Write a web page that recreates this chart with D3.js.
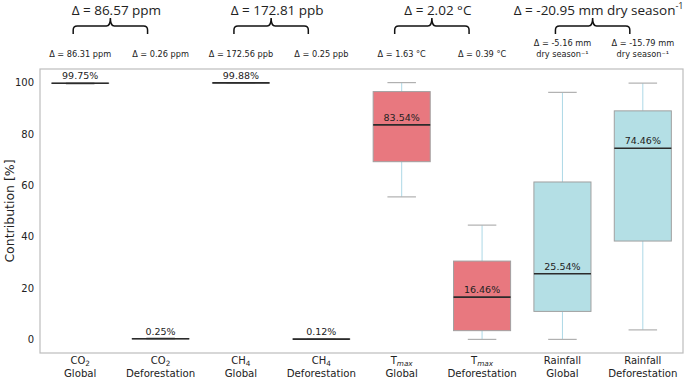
<!DOCTYPE html>
<html>
<head>
<meta charset="utf-8">
<script src="https://cdn.jsdelivr.net/npm/d3@7"></script>
<style>
  body { margin: 0; background: #fff; }
  text { font-family: "DejaVu Sans", sans-serif; fill: #222; }
  .big { font-family: "Open Sans", sans-serif; font-size: 13.5px; }
</style>
</head>
<body>
<div id="chart-area"></div>
<script>
// categories (label line 1 parts, line 2)
const gases = ["CO", "CO", "CH", "CH", "T", "T", "Rainfall", "Rainfall"];
const subs = ["2", "2", "4", "4", "max", "max", "", ""];
const scopes = ["Global", "Deforestation", "Global", "Deforestation", "Global", "Deforestation", "Global", "Deforestation"];

// box stats [%]
const lows = [99.45, 0, 99.7, 0, 55.5, 0, 0, 3.7];
const q1s = [99.68, 0.15, 99.83, 0.06, 69.2, 3.4, 10.9, 38.3];
const medians = [99.75, 0.25, 99.88, 0.12, 83.54, 16.46, 25.54, 74.46];
const q3s = [99.82, 0.35, 99.93, 0.18, 96.5, 30.5, 61.3, 89.0];
const highs = [100, 0.55, 100, 0.3, 100, 44.5, 96.2, 99.8];
const fills = [null, null, null, null, "#e8787f", "#e8787f", "#b4dfe5", "#b4dfe5"];

// annotations
const smallLabels = [
  ["Δ = 86.31 ppm"], ["Δ = 0.26 ppm"], ["Δ = 172.56 ppb"], ["Δ = 0.25 ppb"],
  ["Δ = 1.63 °C"], ["Δ = 0.39 °C"],
  ["Δ = -5.16 mm", "dry season⁻¹"], ["Δ = -15.79 mm", "dry season⁻¹"]
];
const bigLabels = ["Δ = 86.57 ppm", "Δ = 172.81 ppb", "Δ = 2.02 °C", "Δ = -20.95 mm dry season"];
const bigSup = ["", "", "", "-1"];

const yTicks = [0, 20, 40, 60, 80, 100];

let margin = { top: 69, right: 2, bottom: 27, left: 40 },
  width = 685 - margin.left - margin.right,
  height = 380 - margin.top - margin.bottom;

let root = d3.select("#chart-area").append("svg")
  .attr("width", 685).attr("height", 380);

let svg = root.append("g")
  .attr("transform", "translate(" + margin.left + "," + margin.top + ")");

let x = d3.scaleBand().domain(d3.range(gases.length)).range([0, width]);
let y = d3.scaleLinear().domain([-5.3, 105.3]).range([height, 0]);

let bw = x.bandwidth() * 0.71;
let cw = bw / 2;

// frame
svg.append("rect")
  .attr("width", width).attr("height", height)
  .attr("fill", "none").attr("stroke", "#bdbdbd").attr("stroke-width", 1.2);

// y axis
let yAxis = d3.axisLeft(y).tickValues(yTicks).tickSize(0).tickPadding(6);
let yAxisGroup = svg.append("g").call(yAxis);
yAxisGroup.select(".domain").remove();
yAxisGroup.selectAll("text").style("font-size", "10px").attr("fill", "#222");

root.append("text")
  .attr("transform", "translate(14," + (margin.top + y(50)) + ") rotate(-90)")
  .attr("text-anchor", "middle")
  .style("font-size", "12.5px")
  .text("Contribution [%]");

// x labels
let xl = svg.append("g").attr("transform", "translate(0," + height + ")");
gases.forEach(function(g, i) {
  let cx = x(i) + x.bandwidth() / 2;
  let t = xl.append("text").attr("x", cx).attr("y", 10.5)
    .attr("text-anchor", "middle").style("font-size", "10px");
  t.append("tspan").text(g);
  if (subs[i]) {
    t.append("tspan").attr("dy", 2)
      .style("font-size", "7.3px")
      .style("font-style", subs[i] === "max" ? "italic" : "normal")
      .text(subs[i]);
  }
  xl.append("text").attr("x", cx).attr("y", 23.5)
    .attr("text-anchor", "middle").style("font-size", "10.2px")
    .text(scopes[i]);
});

// boxes
let boxes = svg.selectAll(".box").data(d3.range(gases.length)).enter()
  .append("g").attr("class", "box")
  .attr("transform", function(i) { return "translate(" + (x(i) + x.bandwidth() / 2) + ",0)"; });

boxes.append("line")
  .attr("y1", function(i) { return y(highs[i]); })
  .attr("y2", function(i) { return y(q3s[i]); })
  .attr("stroke", "#add8e6").attr("stroke-width", 1);
boxes.append("line")
  .attr("y1", function(i) { return y(q1s[i]); })
  .attr("y2", function(i) { return y(lows[i]); })
  .attr("stroke", "#add8e6").attr("stroke-width", 1);
boxes.selectAll(".cap")
  .data(function(i) { return [highs[i], lows[i]]; }).enter()
  .append("line").attr("class", "cap")
  .attr("x1", -cw / 2).attr("x2", cw / 2)
  .attr("y1", function(v) { return y(v); }).attr("y2", function(v) { return y(v); })
  .attr("stroke", "#b0b0b0").attr("stroke-width", 1.2);

boxes.append("rect")
  .attr("x", -bw / 2).attr("width", bw)
  .attr("y", function(i) { return y(q3s[i]); })
  .attr("height", function(i) { return y(q1s[i]) - y(q3s[i]); })
  .attr("fill", function(i) { return fills[i] || "#cccccc"; })
  .attr("stroke", "#a0a0a0").attr("stroke-width", 1);

boxes.append("line")
  .attr("x1", -bw / 2).attr("x2", bw / 2)
  .attr("y1", function(i) { return y(medians[i]); })
  .attr("y2", function(i) { return y(medians[i]); })
  .attr("stroke", "#2b2b2b").attr("stroke-width", 1.6);

boxes.append("text")
  .attr("y", function(i) { return y(medians[i]) - 4; })
  .attr("text-anchor", "middle").style("font-size", "9.5px")
  .text(function(i) { return medians[i].toFixed(2) + "%"; });

// small annotations above the frame
smallLabels.forEach(function(lines, i) {
  let cx = margin.left + x(i) + x.bandwidth() / 2;
  let y0 = lines.length > 1 ? 46 : 57;
  lines.forEach(function(s, k) {
    root.append("text").attr("x", cx).attr("y", y0 + k * 10.5)
      .attr("text-anchor", "middle").style("font-size", "8.2px").text(s);
  });
});

// braces + big labels
bigLabels.forEach(function(s, j) {
  let c1 = margin.left + x(2 * j) + x.bandwidth() / 2;
  let c2 = margin.left + x(2 * j + 1) + x.bandwidth() / 2;
  let x1 = c1 - 7, x2 = c2 - 13, xm = (x1 + x2) / 2;
  let yb = 34, yh = 26, yt = 18, r = 4;
  let p = d3.path();
  p.moveTo(x1, yb);
  p.lineTo(x1, yh + r);
  p.quadraticCurveTo(x1, yh, x1 + r, yh);
  p.lineTo(xm - r, yh);
  p.quadraticCurveTo(xm, yh, xm, yt);
  p.quadraticCurveTo(xm, yh, xm + r, yh);
  p.lineTo(x2 - r, yh);
  p.quadraticCurveTo(x2, yh, x2, yh + r);
  p.lineTo(x2, yb);
  root.append("path").attr("d", p.toString())
    .attr("fill", "none").attr("stroke", "#111").attr("stroke-width", 1.5);

  let t = root.append("text").attr("class", "big")
    .attr("x", (c1 + c2) / 2 - 4).attr("y", 14.5)
    .attr("text-anchor", "middle");
  t.append("tspan").text(s);
  if (bigSup[j]) {
    t.append("tspan").attr("dy", -6).style("font-size", "9px").text(bigSup[j]);
  }
});
</script>
</body>
</html>
